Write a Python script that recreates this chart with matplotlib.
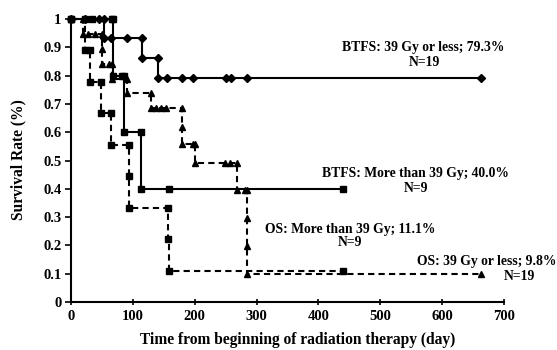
import matplotlib
matplotlib.use("Agg")
import matplotlib.pyplot as plt

# Kaplan-Meier points (time in days, survival fraction)
btfs_low_t = [0, 23, 45, 53, 53, 64, 90, 114, 114, 140, 140, 156, 179, 198, 250, 258, 284, 663]
btfs_low_s = [1, 1, 1, 1, 0.933, 0.933, 0.933, 0.933, 0.861, 0.861, 0.793, 0.793, 0.793,
              0.793, 0.793, 0.793, 0.793, 0.793]

btfs_high_t = [0, 34, 66, 68, 68, 82, 85, 85, 113, 113, 159, 440]
btfs_high_s = [1, 1, 1, 1, 0.8, 0.8, 0.8, 0.6, 0.6, 0.4, 0.4, 0.4]

os_high_t = [0, 23, 23, 30, 30, 48, 48, 64, 64, 93, 93, 94, 157, 157, 158, 440]
os_high_s = [1, 1, 0.889, 0.889, 0.778, 0.778, 0.667, 0.667, 0.556, 0.556, 0.444, 0.333,
             0.333, 0.222, 0.111, 0.111]

os_low_t = [0, 19, 19, 28, 39, 50, 50, 50, 61, 66, 66, 90, 90, 130, 130, 138, 146, 154,
            179, 179, 179, 198, 200, 200, 249, 257, 268, 268, 281, 284, 284, 284, 663]
os_low_s = [1, 1, 0.947, 0.947, 0.947, 0.947, 0.895, 0.842, 0.842, 0.842, 0.789, 0.789,
            0.737, 0.737, 0.684, 0.684, 0.684, 0.684, 0.684, 0.62, 0.56, 0.56, 0.56, 0.49,
            0.49, 0.49, 0.49, 0.396, 0.396, 0.396, 0.297, 0.198, 0.099]
os_low_t = os_low_t[:-1] + [284, 663]
os_low_s = os_low_s + [0.098]

labels = [
    ("BTFS: 39 Gy or less; 79.3%", "N=19"),
    ("BTFS: More than 39 Gy; 40.0%", "N=9"),
    ("OS: More than 39 Gy; 11.1%", "N=9"),
    ("OS: 39 Gy or less; 9.8%", "N=19"),
]

x_ticks = [0, 100, 200, 300, 400, 500, 600, 700]
y_ticks = [0, 0.1, 0.2, 0.3, 0.4, 0.5, 0.6, 0.7, 0.8, 0.9, 1]
y_ticklabels = ["0", "0.1", "0.2", "0.3", "0.4", "0.5", "0.6", "0.7", "0.8", "0.9", "1"]

W, H = 557, 350
plt.rcParams["font.family"] = "Liberation Serif"
plt.rcParams["font.weight"] = "bold"

fig = plt.figure(figsize=(W / 100, H / 100), dpi=100)
ax = fig.add_axes([71 / W, 1 - 302 / H, 433 / W, 283 / H])


def km(t, s, marker, ls, ms):
    n = min(len(t), len(s))
    ax.plot(t[:n], s[:n], drawstyle="steps-post", color="black", lw=1.5, ls=ls,
            clip_on=False, zorder=3)
    ax.plot(t[:n], s[:n], ls="none", marker=marker, color="black", ms=ms,
            clip_on=False, zorder=4)


km(btfs_low_t, btfs_low_s, "D", "-", 4)
km(btfs_high_t, btfs_high_s, "s", "-", 5)
km(os_high_t, os_high_s, "s", (0, (3, 2)), 5)
km(os_low_t, os_low_s, "^", (0, (3, 2)), 5)

ax.set_xlim(0, 700)
ax.set_ylim(0, 1)
ax.set_xticks(x_ticks)
ax.set_yticks(y_ticks)
ax.set_yticklabels(y_ticklabels)
ax.tick_params(axis="x", direction="inout", length=5, width=1.2, labelsize=10.5, pad=3)
ax.tick_params(axis="y", direction="out", length=4, width=1.2, labelsize=10.5, pad=3)
for side in ["top", "right"]:
    ax.spines[side].set_visible(False)
for side in ["left", "bottom"]:
    ax.spines[side].set_linewidth(1.5)

fs = 9.8
pos = [((423, 47), (424, 63)), ((415, 174), (416, 189)),
       ((350, 229), (350, 243)), ((487, 261), (519, 276))]
for (main, n), ((x1, y1), (x2, y2)) in zip(labels, pos):
    fig.text(x1 / W, 1 - y1 / H, main, ha="center", va="center", fontsize=fs, weight="bold")
    fig.text(x2 / W, 1 - y2 / H, n, ha="center", va="center", fontsize=fs, weight="bold")

fig.text(298 / W, 1 - 340 / H, "Time from beginning of radiation therapy (day)",
         ha="center", va="center", fontsize=11.2, weight="bold")
fig.text(18 / W, 1 - 160 / H, "Survival Rate (%)", ha="center", va="center",
         rotation=90, fontsize=11.2, weight="bold")

fig.savefig("out.png", dpi=100)
